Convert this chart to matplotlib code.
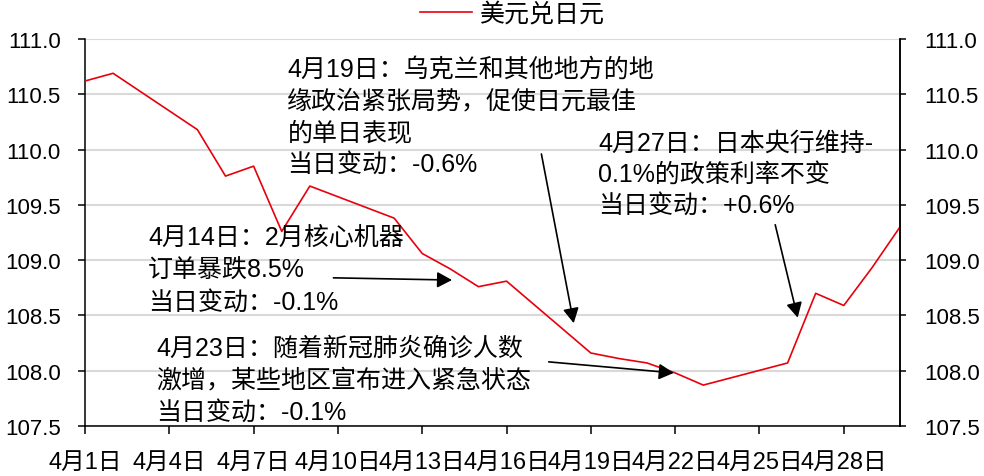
import matplotlib
matplotlib.use('Agg')
import matplotlib.pyplot as plt
from matplotlib import font_manager as fm

names = {f.name for f in fm.fontManager.ttflist}
narrow = 'Liberation Sans Narrow' if 'Liberation Sans Narrow' in names else 'Liberation Sans'
FAM = [narrow, 'Noto Sans CJK SC', 'DejaVu Sans']
plt.rcParams['font.family'] = FAM

# ---- data ----
days = [1, 2, 5, 6, 7, 8, 9, 12, 13, 14, 15, 16, 19, 20, 21, 22, 23, 26, 27, 28, 29, 30]
usdjpy = [110.62, 110.69, 110.18, 109.76, 109.85, 109.26, 109.67, 109.38, 109.06, 108.92,
          108.76, 108.81, 108.16, 108.11, 108.07, 107.98, 107.87, 108.07, 108.70, 108.59,
          108.93, 109.30]
series_name = '美元兑日元'
tick_days = [1, 4, 7, 10, 13, 16, 19, 22, 25, 28]
tick_labels = ['4月1日', '4月4日', '4月7日', '4月10日', '4月13日', '4月16日',
               '4月19日', '4月22日', '4月25日', '4月28日']
y_ticks = [107.5, 108.0, 108.5, 109.0, 109.5, 110.0, 110.5, 111.0]
y_labels = ['107.5', '108.0', '108.5', '109.0', '109.5', '110.0', '110.5', '111.0']

notes = [
    '4月19日：乌克兰和其他地方的地\n缘政治紧张局势，促使日元最佳\n的单日表现\n当日变动：-0.6%',
    '4月27日：日本央行维持-\n0.1%的政策利率不变\n当日变动：+0.6%',
    '4月14日：2月核心机器\n订单暴跌8.5%\n当日变动：-0.1%',
    '4月23日：随着新冠肺炎确诊人数\n激增，某些地区宣布进入紧急状态\n当日变动：-0.1%',
]
note_pos = [(8.2, 110.84), (19.27, 110.17), (3.25, 109.32), (3.54, 108.32)]
note_spacing = [1.40, 1.38, 1.45, 1.43]
arrow_tails = [(17.24, 109.96), (25.56, 109.32), (9.84, 108.84), (17.5, 108.08)]
arrow_heads = [(18.39, 108.43), (26.36, 108.48), (14.06, 108.82), (21.95, 107.98)]

W, H = 984, 477
fig = plt.figure(figsize=(W / 100, H / 100), dpi=100)
L, R, T, B = 85, 900, 40, 427
ax = fig.add_axes([L / W, 1 - B / H, (R - L) / W, (B - T) / H])

ax.plot(days, usdjpy, color='#e8000d', lw=1.2, label=series_name, zorder=3)
ax.set_xlim(1, 30)
ax.set_ylim(107.5, 111.0)
ax.set_xticks(tick_days)
ax.set_xticklabels(tick_labels)
ax.set_yticks(y_ticks)
ax.set_yticklabels(y_labels)
ax.grid(axis='y', color='#d9d9d9', lw=1.5, zorder=0)
ax.set_axisbelow(True)
ax.spines['top'].set_visible(False)
for s in ['left', 'right', 'bottom']:
    ax.spines[s].set_color('black')
    ax.spines[s].set_linewidth(1.1)
ax.tick_params(axis='x', direction='out', length=6, width=1.1, pad=12, labelsize=17)
ax.tick_params(axis='y', direction='out', length=5, width=1.1, pad=12.5, labelsize=16)

ax2 = ax.twinx()
ax2.set_ylim(107.5, 111.0)
ax2.set_yticks(y_ticks)
ax2.set_yticklabels(y_labels)
for s in ['top', 'left', 'bottom']:
    ax2.spines[s].set_visible(False)
ax2.spines['right'].set_linewidth(1.1)
ax2.tick_params(axis='y', direction='out', length=4.5, width=1.1, pad=13, labelsize=16)

for txt, (x, y), ls in zip(notes, note_pos, note_spacing):
    ax.text(x, y, txt, ha='left', va='top', fontsize=18, linespacing=ls, zorder=4)
for (tx, ty), (hx, hy) in zip(arrow_tails, arrow_heads):
    ax.annotate('', xy=(hx, hy), xytext=(tx, ty),
                arrowprops=dict(arrowstyle='-|>,head_length=0.45,head_width=0.24',
                                color='black', lw=1.2, mutation_scale=20,
                                shrinkA=0, shrinkB=0), zorder=5)

leg = ax.legend(loc='center', bbox_to_anchor=(512 / W, 1 - 15 / H),
                bbox_transform=fig.transFigure, frameon=False, fontsize=18,
                handlelength=2.1, handletextpad=0.3, borderpad=0, borderaxespad=0)

fig.savefig('out.png', dpi=100)
